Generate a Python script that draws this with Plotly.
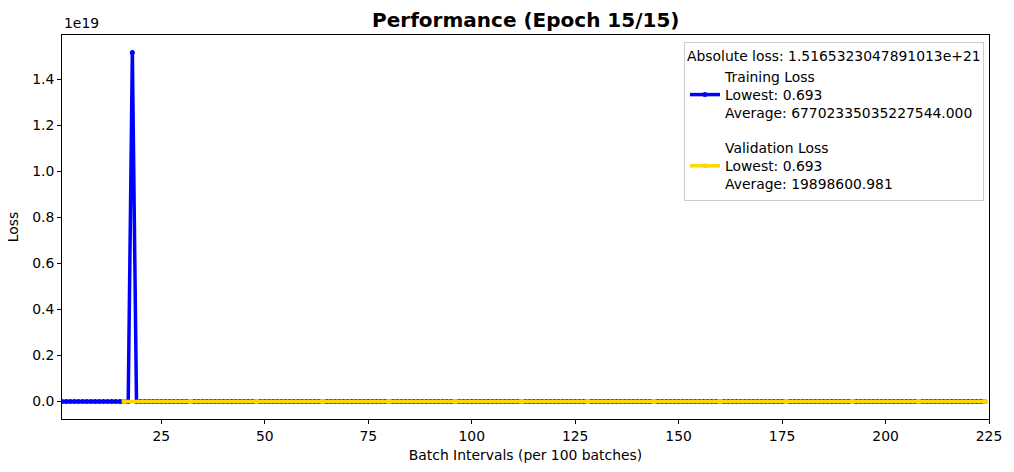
import plotly.graph_objects as go

# ─────────────────────────── datos ───────────────────────────
SCALE = 1e19  # matplotlib muestra el eje Y en unidades de 1e19

# pérdida de entrenamiento: un valor por intervalo (1..224), con un pico en el 18
train_x = list(range(1, 225))
train_loss = [0.693] * 17 + [1.5165323047891013e19] + [0.693] * 206

# pérdida de validación: un valor cada 16 intervalos
val_x = [16, 32, 48, 64, 80, 96, 112, 128, 144, 160, 176, 192, 208, 224]
val_loss = [2.7858e8, 0.693, 0.693, 0.693, 0.693, 0.693, 0.693,
            0.693, 0.693, 0.693, 0.693, 0.693, 0.693, 0.693]

x_ticks = [25, 50, 75, 100, 125, 150, 175, 200, 225]
y_ticks = [0.0, 0.2, 0.4, 0.6, 0.8, 1.0, 1.2, 1.4]

legend_title = "Absolute loss: 1.5165323047891013e+21"
train_name = "Training Loss<br>Lowest: 0.693<br>Average: 67702335035227544.000"
val_name = "Validation Loss<br>Lowest: 0.693<br>Average: 19898600.981"

FONT = "DejaVu Sans"
FS = 13.9  # 10 pt a 100 dpi

# ─────────────────────────── figura ──────────────────────────
fig = go.Figure()
fig.add_trace(go.Scatter(
    x=train_x, y=[v / SCALE for v in train_loss],
    mode="lines+markers", name=train_name, legendgroup="train",
    line=dict(color="#0000ff", width=3.5),
    marker=dict(color="#0000ff", size=5),
))
fig.add_trace(go.Scatter(
    x=val_x, y=[v / SCALE for v in val_loss],
    mode="lines+markers", name=val_name, legendgroup="val",
    line=dict(color="#ffd700", width=3.5),
    marker=dict(color="#ffd700", size=5),
))

axis_common = dict(
    showline=True, linecolor="black", linewidth=1, mirror=True,
    ticks="outside", ticklen=4, tickcolor="black",
    showgrid=False, zeroline=False, automargin=False,
    tickfont=dict(size=FS, color="black", family=FONT),
)

fig.update_layout(
    width=1014, height=472,
    margin=dict(l=62, r=25, t=35, b=53),
    plot_bgcolor="white", paper_bgcolor="white",
    font=dict(family=FONT, size=FS, color="black"),
    title=dict(text="<b>Performance (Epoch 15/15)</b>", x=0.5185, xanchor="center",
               y=0.958, yanchor="middle", font=dict(size=20, family=FONT)),
    xaxis=dict(range=[1, 225], tickvals=x_ticks,
               title=dict(text="Batch Intervals (per 100 batches)", standoff=7,
                          font=dict(size=FS)),
               **axis_common),
    yaxis=dict(range=[-0.0758, 1.592], tickvals=y_ticks, tickformat=".1f",
               title=dict(text="Loss", standoff=10, font=dict(size=FS)),
               **axis_common),
    legend=dict(
        x=0.9946, y=0.982, xanchor="right", yanchor="top",
        bgcolor="rgba(255,255,255,0.8)", bordercolor="#cccccc", borderwidth=1,
        title=dict(text=legend_title, font=dict(size=FS)),
        font=dict(size=FS), tracegroupgap=14, itemwidth=30,
    ),
    showlegend=True,
)

fig.add_annotation(text="1e19", xref="paper", yref="paper", x=0, y=1.0,
                   xanchor="left", yanchor="bottom", yshift=2, showarrow=False,
                   font=dict(size=FS, family=FONT))

# quitar el margen por defecto del <body> para que la figura empiece en (0,0)
fig.write_html("out.html", config={"displayModeBar": False},
               post_script="document.body.style.margin='0';")
